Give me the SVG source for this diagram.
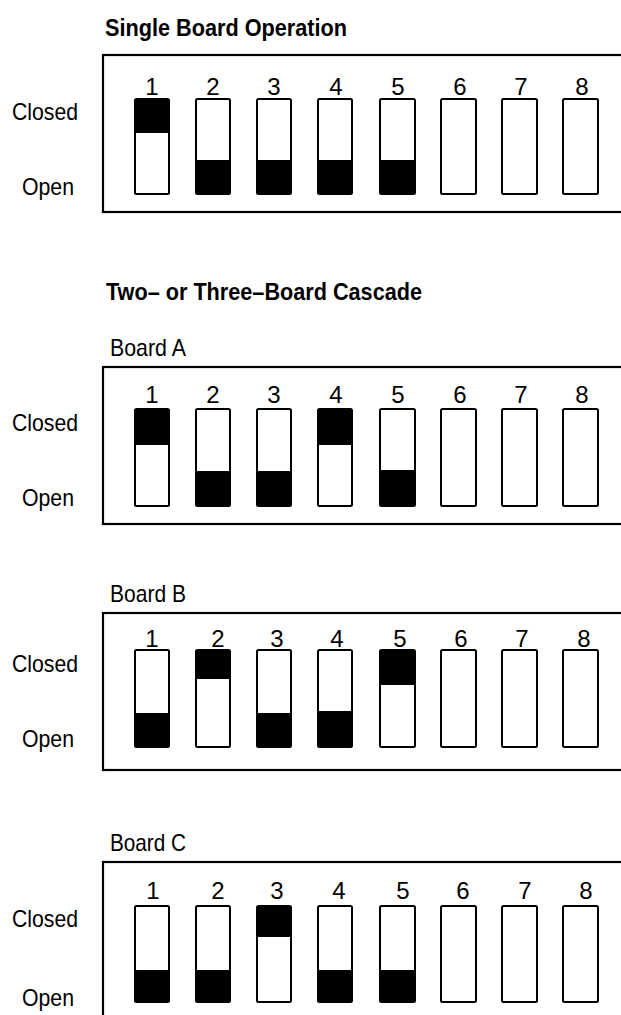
<svg xmlns="http://www.w3.org/2000/svg" width="621" height="1015" viewBox="0 0 621 1015">
<style>
.t{font-family:"Liberation Sans",Arial,sans-serif;font-size:24px;fill:#000}
.b{font-weight:bold}
.n{text-anchor:middle}
.box{fill:none;stroke:#000;stroke-width:2.2}
.sw{fill:#fff;stroke:#000;stroke-width:2;rx:1.5}
.k{fill:#000}
</style>
<rect width="621" height="1015" fill="#fff"/>

<g id="title-single">
<text class="t b" x="105" y="36" textLength="242" lengthAdjust="spacingAndGlyphs">Single Board Operation</text>
</g>
<g id="title-cascade">
<text class="t b" x="106" y="300" textLength="316" lengthAdjust="spacingAndGlyphs">Two– or Three–Board Cascade</text>
</g>

<!-- Single board -->
<g id="board-single">
<text class="t" x="12" y="120" textLength="66" lengthAdjust="spacingAndGlyphs">Closed</text>
<text class="t" x="22" y="195" textLength="52" lengthAdjust="spacingAndGlyphs">Open</text>
<rect class="box" x="103" y="55" width="540" height="157"/>
<g class="t n">
<text x="152" y="95">1</text><text x="213" y="95">2</text><text x="274" y="95">3</text><text x="336" y="95">4</text>
<text x="398" y="95">5</text><text x="460" y="95">6</text><text x="521" y="95">7</text><text x="582" y="95">8</text>
</g>
<rect class="sw" x="135" y="99" width="34" height="95"/><rect class="k" x="135" y="99" width="34" height="34" rx="1.5"/>
<rect class="sw" x="196" y="99" width="34" height="95"/><rect class="k" x="196" y="160" width="34" height="34" rx="1.5"/>
<rect class="sw" x="257" y="99" width="34" height="95"/><rect class="k" x="257" y="160" width="34" height="34" rx="1.5"/>
<rect class="sw" x="318" y="99" width="34" height="95"/><rect class="k" x="318" y="160" width="34" height="34" rx="1.5"/>
<rect class="sw" x="380" y="99" width="35" height="95"/><rect class="k" x="380" y="160" width="35" height="34" rx="1.5"/>
<rect class="sw" x="441" y="99" width="35" height="95"/>
<rect class="sw" x="502" y="99" width="35" height="95"/>
<rect class="sw" x="563" y="99" width="35" height="95"/>
</g>

<!-- Board A -->
<g id="board-a">
<text class="t" x="110" y="356" textLength="76" lengthAdjust="spacingAndGlyphs">Board A</text>
<text class="t" x="12" y="431" textLength="66" lengthAdjust="spacingAndGlyphs">Closed</text>
<text class="t" x="22" y="506" textLength="52" lengthAdjust="spacingAndGlyphs">Open</text>
<rect class="box" x="103" y="367" width="540" height="157"/>
<g class="t n">
<text x="152" y="403">1</text><text x="213" y="403">2</text><text x="274" y="403">3</text><text x="336" y="403">4</text>
<text x="398" y="403">5</text><text x="460" y="403">6</text><text x="521" y="403">7</text><text x="582" y="403">8</text>
</g>
<rect class="sw" x="135" y="409" width="34" height="97"/><rect class="k" x="135" y="409" width="34" height="36" rx="1.5"/>
<rect class="sw" x="196" y="409" width="34" height="97"/><rect class="k" x="196" y="471" width="34" height="35" rx="1.5"/>
<rect class="sw" x="257" y="409" width="34" height="97"/><rect class="k" x="257" y="471" width="34" height="35" rx="1.5"/>
<rect class="sw" x="318" y="409" width="34" height="97"/><rect class="k" x="318" y="409" width="34" height="36" rx="1.5"/>
<rect class="sw" x="380" y="409" width="35" height="97"/><rect class="k" x="380" y="470" width="35" height="36" rx="1.5"/>
<rect class="sw" x="441" y="409" width="35" height="97"/>
<rect class="sw" x="502" y="409" width="35" height="97"/>
<rect class="sw" x="563" y="409" width="35" height="97"/>
</g>

<!-- Board B -->
<g id="board-b">
<text class="t" x="110" y="602" textLength="76" lengthAdjust="spacingAndGlyphs">Board B</text>
<text class="t" x="12" y="672" textLength="66" lengthAdjust="spacingAndGlyphs">Closed</text>
<text class="t" x="22" y="747" textLength="52" lengthAdjust="spacingAndGlyphs">Open</text>
<rect class="box" x="103" y="613" width="540" height="157"/>
<g class="t n">
<text x="152" y="647">1</text><text x="218" y="647">2</text><text x="277" y="647">3</text><text x="337" y="647">4</text>
<text x="400" y="647">5</text><text x="461" y="647">6</text><text x="522" y="647">7</text><text x="584" y="647">8</text>
</g>
<rect class="sw" x="135" y="650" width="34" height="97"/><rect class="k" x="135" y="713" width="34" height="34" rx="1.5"/>
<rect class="sw" x="196" y="650" width="34" height="97"/><rect class="k" x="196" y="650" width="34" height="29" rx="1.5"/>
<rect class="sw" x="257" y="650" width="34" height="97"/><rect class="k" x="257" y="713" width="34" height="34" rx="1.5"/>
<rect class="sw" x="318" y="650" width="34" height="97"/><rect class="k" x="318" y="711" width="34" height="36" rx="1.5"/>
<rect class="sw" x="380" y="650" width="35" height="97"/><rect class="k" x="380" y="650" width="35" height="35" rx="1.5"/>
<rect class="sw" x="441" y="650" width="35" height="97"/>
<rect class="sw" x="502" y="650" width="35" height="97"/>
<rect class="sw" x="563" y="650" width="35" height="97"/>
</g>

<!-- Board C -->
<g id="board-c">
<text class="t" x="110" y="851" textLength="76" lengthAdjust="spacingAndGlyphs">Board C</text>
<text class="t" x="12" y="927" textLength="66" lengthAdjust="spacingAndGlyphs">Closed</text>
<text class="t" x="22" y="1006" textLength="52" lengthAdjust="spacingAndGlyphs">Open</text>
<rect class="box" x="103" y="862" width="540" height="170"/>
<g class="t n">
<text x="153" y="899">1</text><text x="218" y="899">2</text><text x="277" y="899">3</text><text x="339" y="899">4</text>
<text x="403" y="899">5</text><text x="463" y="899">6</text><text x="525" y="899">7</text><text x="586" y="899">8</text>
</g>
<rect class="sw" x="135" y="906" width="34" height="96"/><rect class="k" x="135" y="970" width="34" height="32" rx="1.5"/>
<rect class="sw" x="196" y="906" width="34" height="96"/><rect class="k" x="196" y="970" width="34" height="32" rx="1.5"/>
<rect class="sw" x="257" y="906" width="34" height="96"/><rect class="k" x="257" y="906" width="34" height="31" rx="1.5"/>
<rect class="sw" x="318" y="906" width="34" height="96"/><rect class="k" x="318" y="970" width="34" height="32" rx="1.5"/>
<rect class="sw" x="380" y="906" width="35" height="96"/><rect class="k" x="380" y="970" width="35" height="32" rx="1.5"/>
<rect class="sw" x="441" y="906" width="35" height="96"/>
<rect class="sw" x="502" y="906" width="35" height="96"/>
<rect class="sw" x="563" y="906" width="35" height="96"/>
</g>
<g id="connectors"/>
</svg>
